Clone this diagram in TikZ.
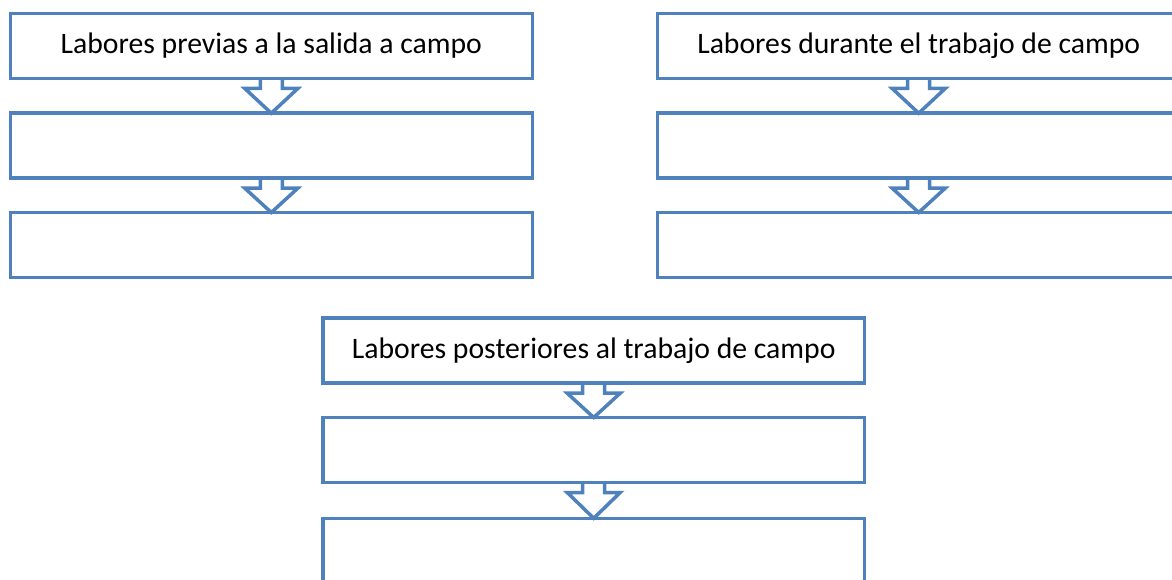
\documentclass[tikz,border=0pt]{standalone}
\usepackage{fontspec}
\setmainfont{Carlito}
\usetikzlibrary{calc}
\definecolor{boxblue}{HTML}{4F81BD}
\tikzset{
  labbox/.style={draw=boxblue, line width=3.5pt, rectangle, inner sep=0pt, outer sep=0pt,
    minimum height=65pt, font=\fontsize{29.7}{35}\selectfont},
  wbox/.style={labbox, minimum width=522pt},
  bbox/.style={labbox, minimum width=541.3pt},
  blockarrow/.style={draw=boxblue, line width=3.5pt, line join=miter},
}
\newcommand{\blockarr}[2]{%
  \draw[blockarrow] ($(#1.south)+(-11,0)$) -- ++(0,10) -- ++(-15.5,0) -- (#2.north)
    -- ($(#1.south)+(26.5,10)$) -- ++(-15.5,0) -- ($(#1.south)+(11,0)$);}
\begin{document}
\begin{tikzpicture}[x=1pt,y=-1pt]
\useasboundingbox (0,0) rectangle (1172,580);
\clip (0,0) rectangle (1172,580);
\node[wbox] (l1) at (271.3,46) {Labores previas a la salida a campo};
\node[wbox] (l2) at (271.3,145.7) {};
\node[wbox] (l3) at (271.3,245) {};
\node[wbox] (r1) at (918.7,46) {Labores durante el trabajo de campo};
\node[wbox] (r2) at (918.7,145.7) {};
\node[wbox] (r3) at (918.7,245) {};
\node[bbox] (b1) at (593.7,350.7) {Labores posteriores al trabajo de campo};
\node[bbox] (b2) at (593.7,450) {};
\node[bbox] (b3) at (593.7,550.8) {};
\blockarr{l1}{l2}
\blockarr{l2}{l3}
\blockarr{r1}{r2}
\blockarr{r2}{r3}
\blockarr{b1}{b2}
\blockarr{b2}{b3}
\end{tikzpicture}
\end{document}
